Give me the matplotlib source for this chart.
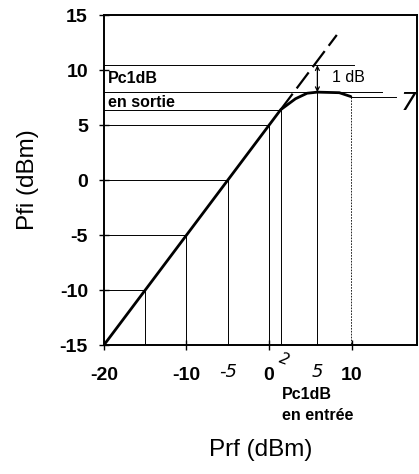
import matplotlib
matplotlib.use('Agg')
import matplotlib.pyplot as plt

plt.rcParams['font.family'] = ['Liberation Sans', 'DejaVu Sans']
plt.rcParams['axes.unicode_minus'] = False

# Measured amplifier response Pfi = f(Prf), in dBm
prf = [-20, -15, -10, -5, 0, 1.4, 3.2, 4.6, 5.85, 8.5, 9.9]
pfi = [-15, -10, -5, 0, 5, 6.4, 7.4, 7.9, 8.0, 7.95, 7.6]

# Ideal linear gain extension (dashed)
lin_x = [1.4, 8.2]
lin_y = [6.4, 13.2]

# Reference levels read on the curve
ref_pts_x = [-15, -10, -5, 0, 1.4]
ref_pts_y = [-10, -5, 0, 5, 6.4]
p1db_in = 5.85
p1db_out = 8.0
p1db_lin = 10.45
sat_x = 9.9
sat_y = 7.6

xticks = [-20, -10, 0, 10]
yticks = [-15, -10, -5, 0, 5, 10, 15]

fig = plt.figure(figsize=(4.19, 4.74), dpi=100)
ax = fig.add_axes([0.248, 0.272, 0.747, 0.696])
ax.set_xlim(-20, 17.9)
ax.set_ylim(-15, 15)

thin = dict(color='black', linewidth=0.7)

# construction lines down/left from the curve
for x, y in zip(ref_pts_x, ref_pts_y):
    ax.plot([-20, x], [y, y], **thin)
    ax.plot([x, x], [y, -15], **thin)
ax.plot([-20, 10.3], [p1db_lin, p1db_lin], **thin)
ax.plot([-20, 13.7], [p1db_out, p1db_out], **thin)
ax.plot([p1db_in, p1db_in], [p1db_out, -15], **thin)
ax.plot([sat_x, sat_x], [sat_y, -15], color='black', linewidth=0.6, linestyle=(0, (2, 1.5)))
ax.plot([sat_x, 15.4], [sat_y, sat_y], **thin)

# curves
ax.plot(prf, pfi, color='black', linewidth=2.0, solid_capstyle='round')
ax.plot(lin_x, lin_y, color='black', linewidth=1.6, linestyle=(0, (9, 3)))

# 1 dB compression arrow
ax.annotate('', xy=(p1db_in, p1db_lin), xytext=(p1db_in, p1db_out),
            arrowprops=dict(arrowstyle='<->', color='black', lw=0.9,
                            shrinkA=0, shrinkB=0, mutation_scale=7))
ax.text(p1db_in + 1.8, 9.3, '1 dB', fontsize=11.5, va='center')

ax.text(-19.5, 9.2, 'Pc1dB', fontsize=11.5, fontweight='bold', va='center')
ax.text(-19.5, 7.1, 'en sortie', fontsize=11.5, fontweight='bold', va='center')

ax.text(1.6, -19.45, 'Pc1dB', fontsize=11.5, fontweight='bold', va='center', clip_on=False)
ax.text(1.6, -21.4, 'en entrée', fontsize=11.5, fontweight='bold', va='center', clip_on=False)

# handwritten notes
hand = dict(fontstyle='italic', va='center', ha='center', clip_on=False,
            fontfamily='DejaVu Sans', fontweight='light')
ax.text(16.9, 7.0, '7', fontsize=18, **hand)
ax.text(-5, -17.45, '-5', fontsize=13, **hand)
ax.text(1.8, -16.3, '2', fontsize=11, rotation=-20, **hand)
ax.text(5.85, -17.45, '5', fontsize=13, **hand)

ax.set_xticks(xticks)
ax.set_yticks(yticks)
ax.tick_params(direction='inout', length=7, width=1.0, labelsize=14)
ax.tick_params(axis='x', pad=12)
ax.tick_params(axis='y', pad=8)
for lbl in ax.get_xticklabels() + ax.get_yticklabels():
    lbl.set_fontweight('bold')
for s in ax.spines.values():
    s.set_linewidth(1.4)

ax.set_xlabel('Prf (dBm)', fontsize=17.5, labelpad=40)
ax.set_ylabel('Pfi (dBm)', fontsize=17.5, labelpad=15)

fig.savefig('out.png', dpi=100)
